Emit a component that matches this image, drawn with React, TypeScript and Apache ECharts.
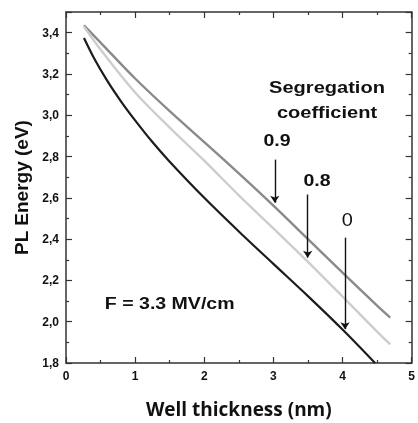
import React, { useEffect, useRef } from 'react';
import * as echarts from 'echarts';

// Well thickness (nm) and PL energy (eV) for each segregation coefficient
const thickness09 = [0.26, 0.5, 1.0, 1.5, 2.0, 2.5, 3.0, 3.5, 4.0, 4.5, 4.69];
const energy09 = [3.436, 3.352, 3.178, 3.02, 2.87, 2.718, 2.562, 2.4, 2.238, 2.078, 2.02];

const thickness08 = [0.26, 0.5, 1.0, 1.5, 2.0, 2.5, 3.0, 3.5, 4.0, 4.5, 4.69];
const energy08 = [3.43, 3.318, 3.11, 2.94, 2.78, 2.612, 2.452, 2.29, 2.122, 1.952, 1.89];

const thickness0 = [0.26, 0.4, 0.6, 0.8, 1.0, 1.25, 1.5, 2.0, 2.5, 3.0, 3.5, 4.0, 4.47];
const energy0 = [3.374, 3.28, 3.165, 3.065, 2.975, 2.87, 2.775, 2.6, 2.437, 2.28, 2.124, 1.962, 1.8];

// Arrows: [x, yStart, yEnd]
const arrow09 = [3.02, 2.785, 2.576];
const arrow08 = [3.496, 2.616, 2.31];
const arrow0 = [4.036, 2.407, 1.964];

const xTicks = [0, 5, 1];
const yTicks = [1.8, 3.5, 0.2];

const pairs = (xs: number[], ys: number[]) => xs.map((x, i) => [x, ys[i]]);
const arrowLine = (a: number[]) => [
  { coord: [a[0], a[1]], symbol: 'none' },
  { coord: [a[0], a[2]], symbol: 'arrow' },
];

export default function App() {
  const ref = useRef<HTMLDivElement>(null);
  useEffect(() => {
    const chart = echarts.init(ref.current!, null, { renderer: 'svg' });
    const axisColor = '#333';
    const font = 'Liberation Sans, Arial, sans-serif';
    const baseX = {
      type: 'value' as const,
      min: xTicks[0],
      max: xTicks[1],
      interval: xTicks[2],
      axisLine: { show: true, onZero: false, lineStyle: { color: axisColor, width: 1.5 } },
      axisTick: { show: true, inside: true, length: 6, lineStyle: { color: axisColor, width: 1.2 } },
      minorTick: { show: true, splitNumber: 2, length: 3, lineStyle: { color: axisColor, width: 1.2 } },
      splitLine: { show: false },
    };
    const baseY = {
      type: 'value' as const,
      min: yTicks[0],
      max: yTicks[1],
      interval: yTicks[2],
      axisLine: { show: true, onZero: false, lineStyle: { color: axisColor, width: 1.5 } },
      axisTick: { show: true, inside: true, length: 6, lineStyle: { color: axisColor, width: 1.2 } },
      minorTick: { show: true, splitNumber: 2, length: 3, lineStyle: { color: axisColor, width: 1.2 } },
      splitLine: { show: false },
    };
    const annText = (text: string, x: number, y: number, size: number, weight: string, sx: number) => ({
      type: 'text',
      x,
      y,
      scaleX: sx,
      style: {
        text,
        fontFamily: font,
        fontSize: size,
        fontWeight: weight,
        fill: '#111',
        align: 'center',
        verticalAlign: 'middle',
      },
    });
    chart.setOption({
      animation: false,
      grid: { left: 66, top: 12, right: 3, bottom: 60, containLabel: false },
      xAxis: [
        {
          ...baseX,
          position: 'bottom',
          axisLabel: { fontFamily: font, fontWeight: 'bold', fontSize: 12, color: '#111', margin: 7 },
          name: 'Well thickness (nm)',
          nameLocation: 'middle',
          nameGap: 36,
          nameTextStyle: { fontFamily: 'Open Sans', fontWeight: 'bold', fontSize: 19, color: '#111' },
        },
        { ...baseX, position: 'top', axisLabel: { show: false } },
      ],
      yAxis: [
        {
          ...baseY,
          position: 'left',
          axisLabel: {
            fontFamily: font,
            fontWeight: 'bold',
            fontSize: 12,
            color: '#111',
            margin: 7,
            formatter: (v: number) => (Math.abs(v - 3.5) < 1e-6 ? '' : v.toFixed(1).replace('.', ',')),
          },
          name: 'PL Energy (eV)',
          nameLocation: 'middle',
          nameGap: 33,
          nameTextStyle: { fontFamily: font, fontWeight: 'bold', fontSize: 19, color: '#111' },
        },
        { ...baseY, position: 'right', axisLabel: { show: false } },
      ],
      series: [
        {
          type: 'line',
          data: pairs(thickness09, energy09),
          smooth: 0.3,
          showSymbol: false,
          lineStyle: { color: '#8a8a8a', width: 2.4 },
          silent: true,
        },
        {
          type: 'line',
          data: pairs(thickness08, energy08),
          smooth: 0.3,
          showSymbol: false,
          lineStyle: { color: '#cdcdcd', width: 2.4 },
          silent: true,
        },
        {
          type: 'line',
          data: pairs(thickness0, energy0),
          smooth: 0.3,
          showSymbol: false,
          lineStyle: { color: '#1c1c1c', width: 2.2 },
          silent: true,
          markLine: {
            silent: true,
            symbolSize: 7,
            label: { show: false },
            lineStyle: { color: '#111', width: 1.4, type: 'solid' },
            emphasis: { disabled: true },
            data: [arrowLine(arrow09), arrowLine(arrow08), arrowLine(arrow0)],
          },
        },
      ],
      graphic: [
        annText('Segregation', 327, 87, 17, 'bold', 1.18),
        annText('coefficient', 327, 112, 17, 'bold', 1.18),
        annText('0.9', 277, 140, 17, 'bold', 1.15),
        annText('0.8', 317, 179.5, 17, 'bold', 1.15),
        annText('0', 347.3, 219, 19, 'normal', 1.05),
        annText('F = 3.3 MV/cm', 169.7, 302.7, 17, 'bold', 1.15),
      ],
    });
    return () => chart.dispose();
  }, []);
  return <div ref={ref} style={{ position: 'fixed', left: 0, top: 0, width: 418, height: 423 }} />;
}
